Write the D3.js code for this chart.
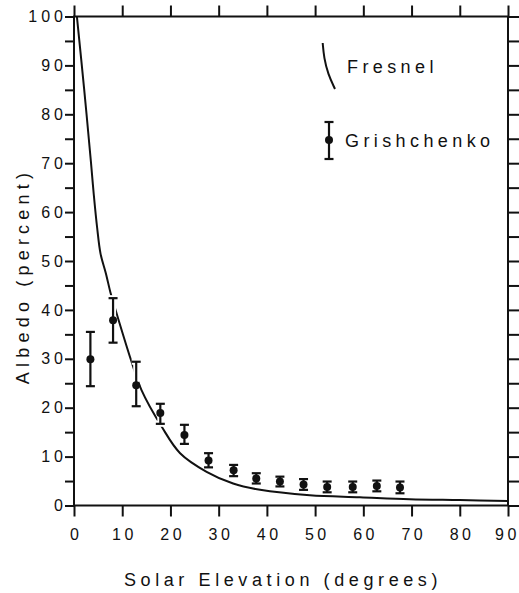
<!DOCTYPE html>
<html lang="en">
<head>
<meta charset="utf-8">
<title>Albedo vs Solar Elevation</title>
<script src="https://cdn.jsdelivr.net/npm/d3@7"></script>
<style>
    body { margin: 0; background: #fff; }
    svg { font-family: "Liberation Sans", Arial, sans-serif; fill: #111; }
    .axis line { stroke: #111; stroke-width: 2; }
    .axis path { display: none; }
    .axis text { font-size: 16px; letter-spacing: 4px; fill: #111; font-family: "Liberation Sans", Arial, sans-serif; }
    .frame { fill: none; stroke: #111; stroke-width: 2; }
    .fresnel { fill: none; stroke: #111; stroke-width: 2; }
    .title { font-size: 18px; fill: #111; }
</style>
</head>
<body>
<div id="chart"></div>
<script>

// values
const xTicks = [0, 10, 20, 30, 40, 50, 60, 70, 80, 90];
const yTicks = [0, 10, 20, 30, 40, 50, 60, 70, 80, 90, 100];

// Fresnel curve (solar elevation in degrees, albedo in percent)
const fresnelElev   = [0.6, 2.1, 3.5, 4.1, 4.8, 5.5, 6.6, 7.6, 8.4, 11.8, 14.0, 18.2, 22.0, 27.5, 33.0, 38.6, 48.9, 59.3, 69.6, 80, 90];
const fresnelAlbedo = [100, 85.2, 70.4, 63.6, 56.8, 51.5, 47.5, 43.4, 40.7, 29.8, 23.6, 16.1, 10.7, 6.9, 4.5, 3.2, 2.1, 1.7, 1.3, 1.1, 0.9];

// Grishchenko observations with error bars
const grishElev   = [3.4, 8.1, 12.9, 17.9, 22.9, 27.9, 33.1, 37.8, 42.7, 47.6, 52.5, 57.8, 62.8, 67.6];
const grishAlbedo = [29.9, 37.9, 24.6, 18.9, 14.4, 9.2, 7.2, 5.5, 4.9, 4.3, 3.8, 3.8, 4.0, 3.7];
const grishLow    = [24.4, 33.3, 20.3, 16.7, 12.6, 7.8, 6.0, 4.5, 3.9, 3.2, 2.7, 2.7, 2.9, 2.5];
const grishHigh   = [35.5, 42.4, 29.4, 20.8, 16.5, 10.7, 8.3, 6.6, 5.9, 5.4, 4.9, 4.9, 5.1, 4.9];

const WIDTH = 519, HEIGHT = 593;
const PLOT = { left: 74, right: 508, top: 16.5, bottom: 505.5 };

let svg = d3.select("#chart").append("svg")
    .attr("width", WIDTH)
    .attr("height", HEIGHT);

let xScale = d3.scaleLinear().domain([0, 90]).range([PLOT.left, PLOT.right]);
let yScale = d3.scaleLinear().domain([0, 100]).range([PLOT.bottom, PLOT.top]);

// axes: ticks outside on all four sides
let bottomAxis = svg.append("g")
    .attr("class", "axis")
    .attr("transform", "translate(0," + PLOT.bottom + ")")
    .call(d3.axisBottom(xScale).tickValues(xTicks).tickSize(11).tickPadding(12).tickSizeOuter(0));

// letter-spacing leaves a trailing gap; nudge labels back to centre, keep "90" inside
bottomAxis.selectAll("text")
    .style("letter-spacing", "3.5px")
    .attr("dx", d => d === 90 ? -1 : 1.75);

svg.append("g")
    .attr("class", "axis")
    .attr("transform", "translate(0," + PLOT.top + ")")
    .call(d3.axisTop(xScale).tickValues(xTicks).tickSize(11).tickFormat("").tickSizeOuter(0));

svg.append("g")
    .attr("class", "axis")
    .attr("transform", "translate(" + PLOT.left + ",0)")
    .call(d3.axisLeft(yScale).tickValues(d3.range(0, 101, 5)).tickSize(9).tickPadding(-2)
        .tickFormat(d => yTicks.includes(d) ? d : "").tickSizeOuter(0));

svg.append("g")
    .attr("class", "axis")
    .attr("transform", "translate(" + PLOT.right + ",0)")
    .call(d3.axisRight(yScale).tickValues(d3.range(0, 101, 5)).tickSize(11).tickFormat("").tickSizeOuter(0));

svg.append("rect")
    .attr("class", "frame")
    .attr("x", PLOT.left)
    .attr("y", PLOT.top)
    .attr("width", PLOT.right - PLOT.left)
    .attr("height", PLOT.bottom - PLOT.top);

// Fresnel curve
let fresnelData = fresnelElev.map((e, i) => [e, fresnelAlbedo[i]]);
let lineGen = d3.line()
    .x(d => xScale(d[0]))
    .y(d => yScale(d[1]))
    .curve(d3.curveCatmullRom.alpha(0.5));

svg.append("path")
    .datum(fresnelData)
    .attr("class", "fresnel")
    .attr("d", lineGen);

// error bars (white halo first, as in the print where the curve breaks)
let obs = grishElev.map((e, i) => ({ x: e, y: grishAlbedo[i], lo: grishLow[i], hi: grishHigh[i] }));

function drawBar(g, d, colour, w) {
    let cx = xScale(d.x);
    g.append("line").attr("x1", cx).attr("x2", cx)
        .attr("y1", yScale(d.lo)).attr("y2", yScale(d.hi))
        .attr("stroke", colour).attr("stroke-width", w);
    [d.lo, d.hi].forEach(v => {
        g.append("line").attr("x1", cx - 4.5).attr("x2", cx + 4.5)
            .attr("y1", yScale(v)).attr("y2", yScale(v))
            .attr("stroke", colour).attr("stroke-width", w);
    });
}

let halo = svg.append("g");
obs.slice(0, 4).forEach(d => drawBar(halo, d, "#fff", 6));

let bars = svg.append("g");
obs.forEach(d => drawBar(bars, d, "#111", 2.2));
bars.selectAll("circle")
    .data(obs)
    .enter()
    .append("circle")
    .attr("cx", d => xScale(d.x))
    .attr("cy", d => yScale(d.y))
    .attr("r", 4)
    .attr("fill", "#111");

// legend
let legend = svg.append("g");
legend.append("path")
    .attr("class", "fresnel")
    .attr("d", d3.line().curve(d3.curveBasis)([[322.7, 43], [324, 58], [328, 74], [335, 89]]));
legend.append("text")
    .attr("class", "title")
    .attr("x", 347).attr("y", 73)
    .style("letter-spacing", "4.4px")
    .text("Fresnel");

let lg = { x: 329, top: 122, bottom: 159, mid: 140 };
legend.append("line").attr("x1", lg.x).attr("x2", lg.x).attr("y1", lg.top).attr("y2", lg.bottom)
    .attr("stroke", "#111").attr("stroke-width", 2.2);
[lg.top, lg.bottom].forEach(v => {
    legend.append("line").attr("x1", lg.x - 4.5).attr("x2", lg.x + 4.5).attr("y1", v).attr("y2", v)
        .attr("stroke", "#111").attr("stroke-width", 2.2);
});
legend.append("circle").attr("cx", lg.x).attr("cy", lg.mid).attr("r", 4).attr("fill", "#111");
legend.append("text")
    .attr("class", "title")
    .attr("x", 345).attr("y", 146.5)
    .style("letter-spacing", "4.4px")
    .text("Grishchenko");

// axis titles
svg.append("text")
    .attr("class", "title")
    .attr("x", 283).attr("y", 586)
    .attr("text-anchor", "middle")
    .style("letter-spacing", "4.6px")
    .text("Solar Elevation (degrees)");

svg.append("text")
    .attr("class", "title")
    .attr("transform", "translate(29,276) rotate(-90)")
    .attr("text-anchor", "middle")
    .style("letter-spacing", "5.2px")
    .text("Albedo (percent)");

</script>
</body>
</html>
